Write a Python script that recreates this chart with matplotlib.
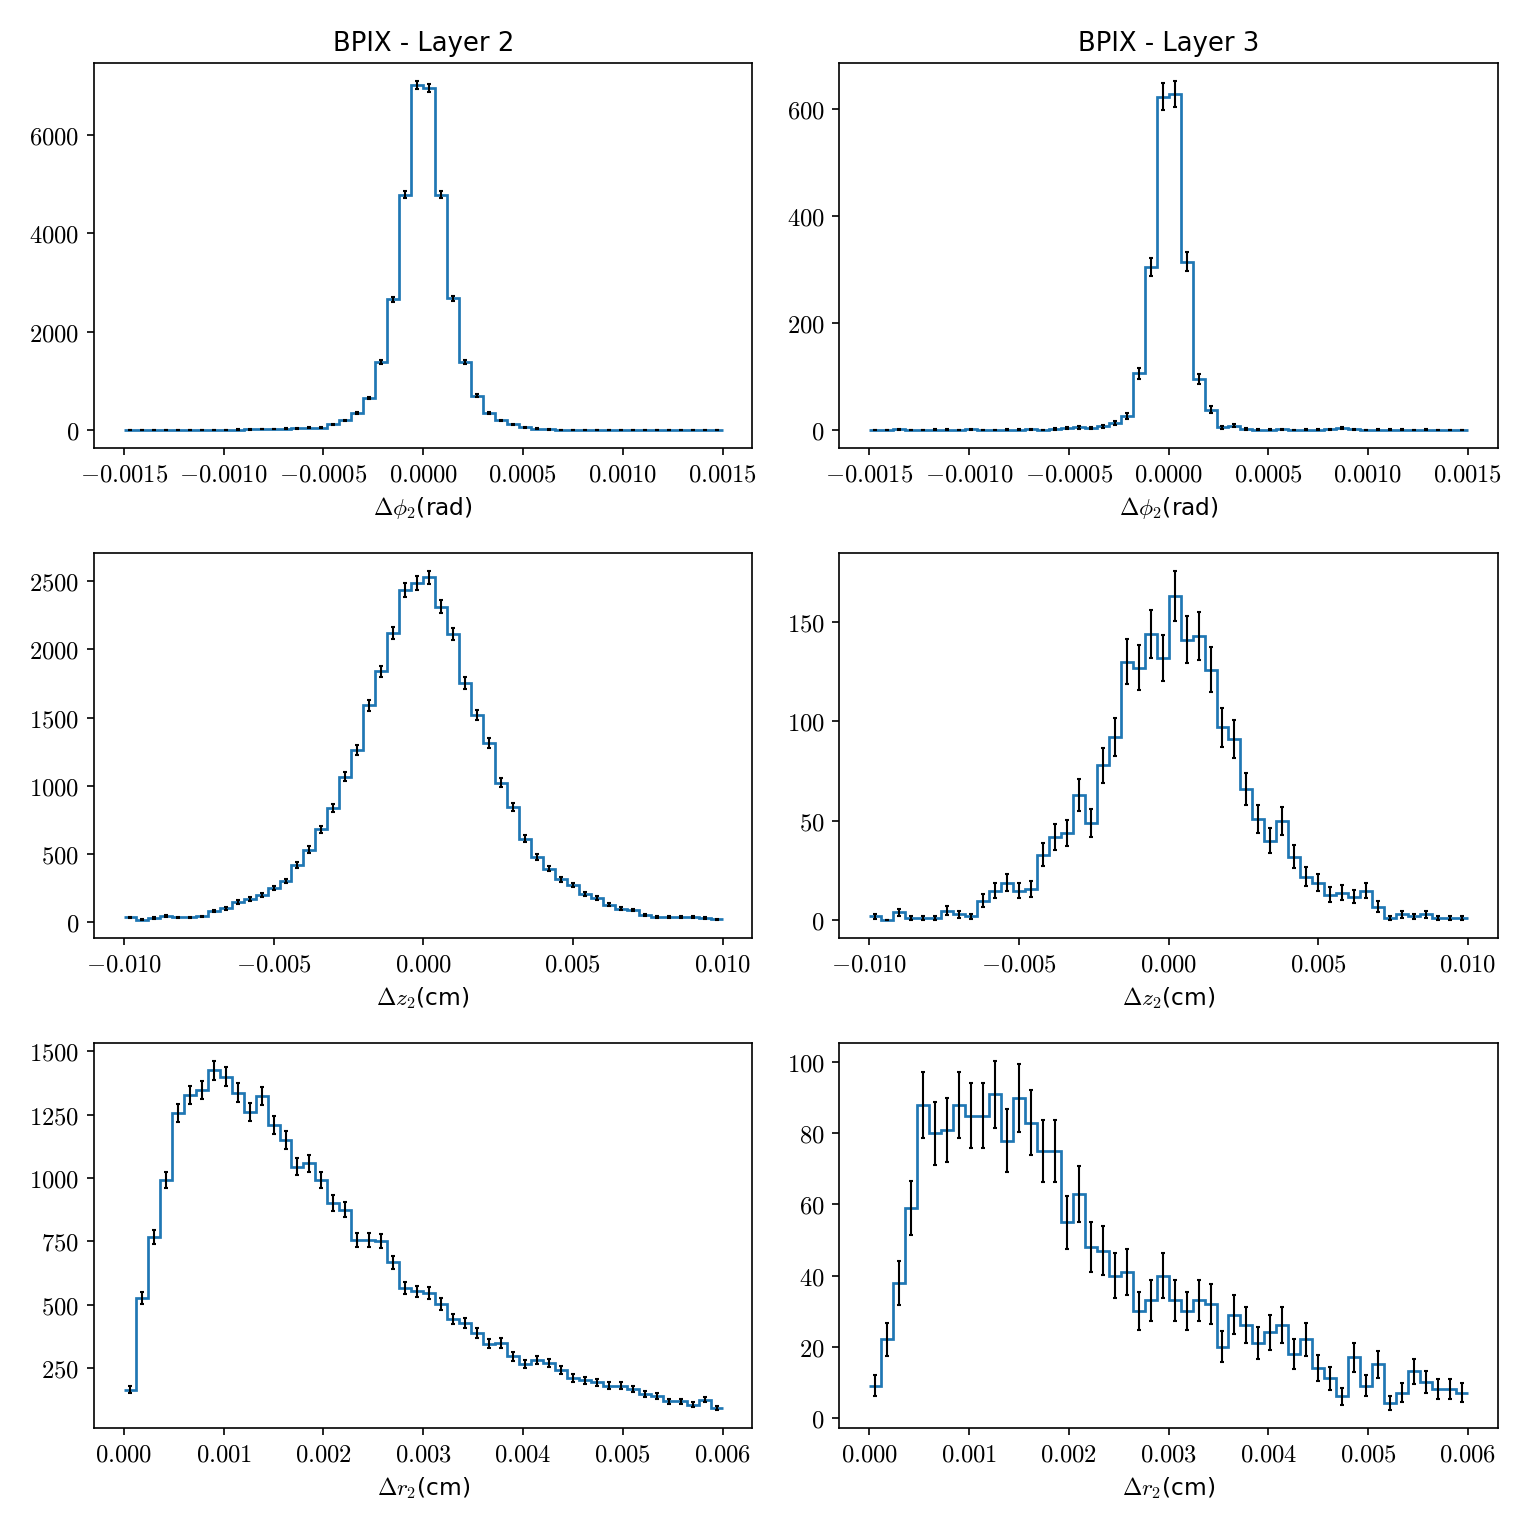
import numpy as np
import matplotlib
matplotlib.use("Agg")
import matplotlib.pyplot as plt
from matplotlib.ticker import FuncFormatter, MultipleLocator

plt.rcParams['mathtext.fontset'] = 'cm'
plt.rcParams['font.family'] = ['DejaVu Sans']

# 50 bins per histogram, counts
phi_l2 = [3, 2, 8, 8, 9, 10, 11, 12, 14, 18,
          20, 25, 28, 35, 45, 55, 54, 122, 203, 352,
          657, 1388, 2660, 4786, 7020, 6946, 4786, 2680, 1388, 704,
          352, 203, 122, 68, 35, 20, 15, 15, 12, 10,
          12, 8, 7, 6, 6, 6, 5, 6, 5, 5]
phi_l3 = [0, 0, 2, 0, 0, 1, 1, 0, 2, 0,
          0, 1, 1, 2, 0, 3, 5, 6, 4, 8,
          14, 27, 107, 305, 623, 628, 315, 96, 39, 6,
          9, 3, 1, 1, 2, 0, 1, 1, 2, 4,
          2, 0, 1, 1, 1, 0, 1, 0, 0, 0]
z_l2 = [37, 19, 32, 46, 37, 37, 44, 85, 105, 151,
        170, 202, 253, 304, 419, 533, 682, 835, 1066, 1261,
        1589, 1838, 2118, 2434, 2483, 2526, 2312, 2110, 1752, 1519,
        1314, 1022, 845, 613, 479, 394, 316, 275, 207, 180,
        131, 102, 92, 54, 39, 39, 39, 39, 32, 24]
z_l3 = [2, 0, 4, 1, 1, 1, 5, 3, 2, 10,
        15, 19, 15, 16, 33, 42, 44, 63, 49, 78,
        92, 130, 127, 144, 132, 163, 141, 143, 126, 97,
        91, 66, 51, 40, 50, 32, 22, 19, 13, 14,
        12, 15, 7, 1, 3, 2, 3, 1, 1, 1]
r_l2 = [166, 528, 769, 991, 1256, 1327, 1346, 1425, 1399, 1336,
        1260, 1323, 1209, 1150, 1045, 1058, 992, 902, 874, 754,
        754, 751, 668, 565, 553, 546, 503, 444, 428, 389,
        347, 350, 297, 267, 283, 271, 245, 212, 203, 195,
        182, 182, 169, 150, 142, 120, 120, 107, 127, 94]
r_l3 = [9, 22, 38, 59, 88, 80, 81, 88, 85, 85,
        91, 78, 90, 83, 75, 75, 55, 63, 48, 47,
        40, 41, 30, 33, 40, 33, 30, 33, 32, 20,
        29, 26, 21, 24, 26, 18, 22, 14, 11, 6,
        17, 9, 15, 4, 7, 13, 10, 8, 8, 7]

phi_range = (-0.0015, 0.0015)
z_range = (-0.01, 0.01)
r_range = (0.0, 0.006)
titles = ['BPIX - Layer 2', 'BPIX - Layer 3']
xlabels = [r'$\Delta\phi_2$(rad)', r'$\Delta z_2$(cm)', r'$\Delta r_2$(cm)']
xdecimals = [4, 3, 3]
xsteps = [0.0005, 0.005, 0.001]
ysteps = [[2000, 200], [500, 50], [250, 20]]


def draw_hist(ax, counts, rng):
    counts = np.array(counts, dtype=float)
    edges = np.linspace(rng[0], rng[1], len(counts) + 1)
    centers = 0.5 * (edges[1:] + edges[:-1])
    ax.errorbar(centers, counts, yerr=np.sqrt(counts), fmt='none',
                ecolor='black', elinewidth=1, capsize=1)
    ax.stairs(counts, edges, baseline=None, color='#1f77b4', linewidth=1.3)


def math_fmt(decimals):
    def f(x, pos):
        s = f'{x:.{decimals}f}'
        if s.startswith('-') and float(s) == 0:
            s = s[1:]
        return '$' + s + '$'
    return FuncFormatter(f)


fig, axes = plt.subplots(3, 2, figsize=(10.2, 10.2), dpi=150)
data = [[phi_l2, phi_l3], [z_l2, z_l3], [r_l2, r_l3]]
ranges = [phi_range, z_range, r_range]

for row in range(3):
    for col in range(2):
        ax = axes[row, col]
        draw_hist(ax, data[row][col], ranges[row])
        ax.set_xlabel(xlabels[row], fontsize=11.2)
        ax.xaxis.set_major_locator(MultipleLocator(xsteps[row]))
        ax.yaxis.set_major_locator(MultipleLocator(ysteps[row][col]))
        ax.xaxis.set_major_formatter(math_fmt(xdecimals[row]))
        ax.yaxis.set_major_formatter(math_fmt(0))
        ax.tick_params(labelsize=11.8)
        if row == 0:
            ax.set_title(titles[col], fontsize=12.4)

fig.subplots_adjust(left=0.0614, right=0.979, top=0.9588, bottom=0.0667,
                    wspace=0.132, hspace=0.273)
fig.savefig('out.png', dpi=150)
